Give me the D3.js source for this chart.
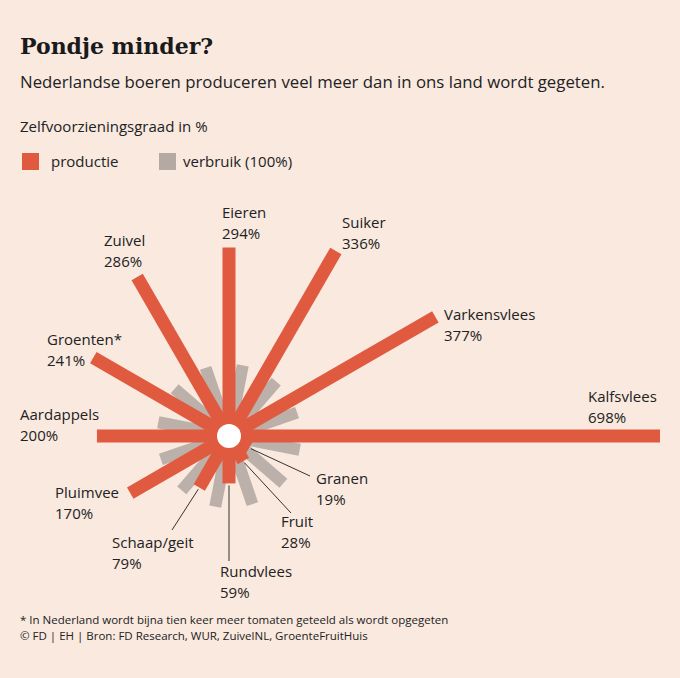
<!DOCTYPE html>
<html><head><meta charset="utf-8">
<script src="https://cdn.jsdelivr.net/npm/d3@7"></script>
<style>
body{margin:0;background:#f9e9df;font-family:"Open Sans",sans-serif;}
</style></head>
<body><svg id="chart"></svg>
<script>
// categories clockwise from top, production in %
const categories = ["Eieren","Suiker","Varkensvlees","Kalfsvlees","Granen","Fruit","Rundvlees","Schaap/geit","Pluimvee","Aardappels","Groenten*","Zuivel"];
const production = [294, 336, 377, 698, 19, 28, 59, 79, 170, 200, 241, 286];
const consumption = 100;
// label anchor positions (top-left of name line)
const labelPos = [[222,218],[342,228],[444,320],[588,402],[316,484],[281,527],[220,577],[112,548],[55,498],[20,420],[47,345],[104,246]];
const leaders = {4:true,5:true,6:true,7:true};

const width = 680, height = 678;
const cx = 229, cy = 436, inner = 12;
const svg = d3.select("#chart").attr("width", width).attr("height", height);

const r = d3.scaleLinear().domain([0, 698]).range([inner, 431]);
const angle = d3.scaleBand().domain(categories).range([0, 360]);
const ang = c => angle(c);

const g = svg.append("g").attr("transform", `translate(${cx},${cy})`);

// consumption bars (gray), slightly rotated
g.selectAll(".cons").data(categories).enter().append("rect")
  .attr("x", -6).attr("width", 12)
  .attr("y", -r(consumption)).attr("height", r(consumption) - inner)
  .attr("fill", "#bcb1aa")
  .attr("transform", d => `rotate(${ang(d) + 11})`);

// production bars
g.selectAll(".prod").data(categories).enter().append("rect")
  .attr("x", -6.5).attr("width", 13)
  .attr("y", (d, i) => -r(production[i])).attr("height", (d, i) => r(production[i]))
  .attr("fill", "#e05a3f")
  .attr("transform", d => `rotate(${ang(d)})`);

g.append("circle").attr("r", inner).attr("fill", "#fff");

// leader lines
categories.forEach((c, i) => {
  if (!leaders[i]) return;
  const a = (ang(c) - 90) * Math.PI / 180;
  const x1 = cx + Math.cos(a) * (r(production[i]) + 2), y1 = cy + Math.sin(a) * (r(production[i]) + 2);
  const [lx, ly] = labelPos[i];
  let x2 = lx + 10, y2 = ly - 14;
  if (i === 4) { x2 = lx - 6; y2 = ly - 8; }
  if (i === 7) { x2 = lx + 60; y2 = ly - 18; }
  if (i === 6) { x2 = x1; y2 = ly - 16; }
  svg.append("line").attr("x1", x1).attr("y1", y1).attr("x2", x2).attr("y2", y2)
    .attr("stroke", "#333").attr("stroke-width", 1);
});

// labels
categories.forEach((c, i) => {
  const [x, y] = labelPos[i];
  const t = svg.append("text").attr("x", x).attr("y", y).attr("font-size", 15).attr("fill", "#222");
  t.append("tspan").attr("x", x).text(c);
  t.append("tspan").attr("x", x).attr("dy", 21).text(production[i] + "%");
});

// header
svg.append("text").attr("x", 20).attr("y", 54).attr("font-family", "'DejaVu Serif',serif")
  .attr("font-weight", "bold").attr("font-size", 22).attr("fill", "#1a1a1a").text("Pondje minder?");
svg.append("text").attr("x", 20).attr("y", 88).attr("font-size", 16.8).attr("fill", "#222")
  .text("Nederlandse boeren produceren veel meer dan in ons land wordt gegeten.");
svg.append("text").attr("x", 20).attr("y", 132).attr("font-size", 15).attr("fill", "#222")
  .text("Zelfvoorzieningsgraad in %");
svg.append("rect").attr("x", 22).attr("y", 153).attr("width", 17).attr("height", 17).attr("fill", "#e05a3f");
svg.append("text").attr("x", 51).attr("y", 167).attr("font-size", 15).attr("fill", "#222").text("productie");
svg.append("rect").attr("x", 159).attr("y", 153).attr("width", 17).attr("height", 17).attr("fill", "#b5aaa3");
svg.append("text").attr("x", 183).attr("y", 167).attr("font-size", 15).attr("fill", "#222").text("verbruik (100%)");

// footer
svg.append("text").attr("x", 20).attr("y", 624).attr("font-size", 11.5).attr("fill", "#222")
  .text("* In Nederland wordt bijna tien keer meer tomaten geteeld als wordt opgegeten");
svg.append("text").attr("x", 20).attr("y", 640).attr("font-size", 11.5).attr("fill", "#222")
  .text("© FD | EH | Bron: FD Research, WUR, ZuivelNL, GroenteFruitHuis");
</script></body></html>
